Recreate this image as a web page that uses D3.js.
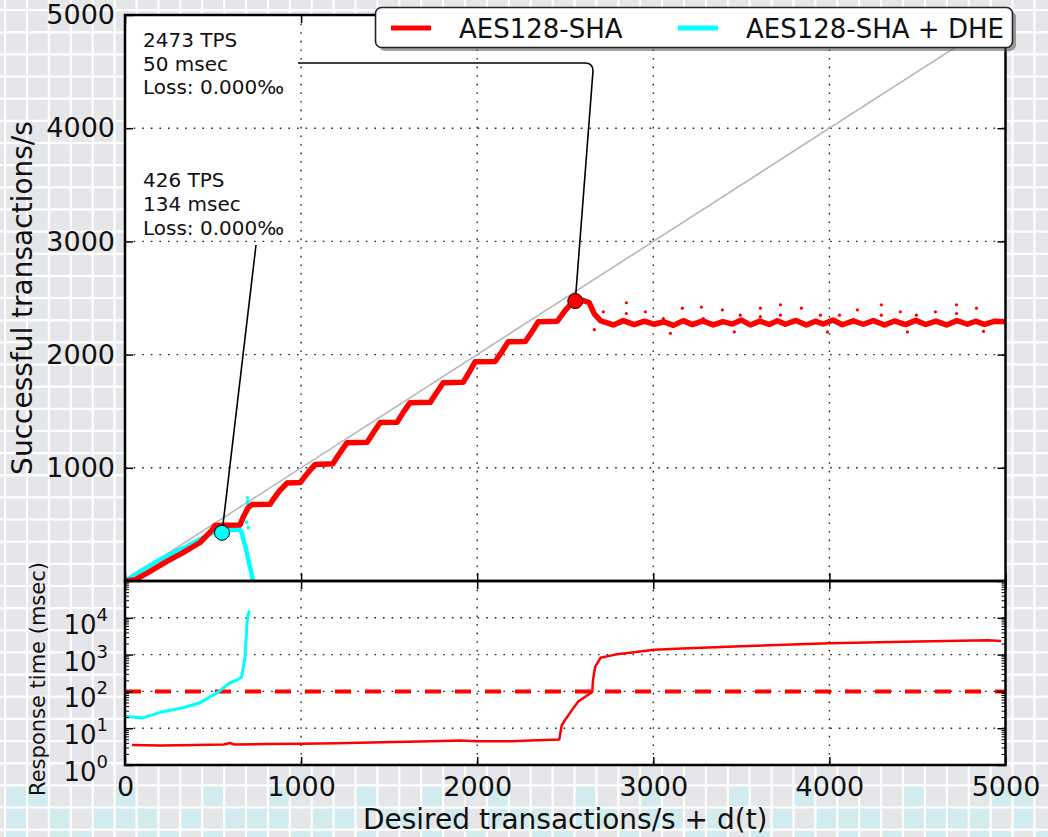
<!DOCTYPE html>
<html><head><meta charset="utf-8">
<script src="https://cdn.jsdelivr.net/npm/d3@7"></script>
<style>
body{margin:0;background:#e5e6ea}
svg{display:block}
text{font-family:"DejaVu Sans",sans-serif;fill:#111}
</style>
</head><body>
<svg id="c" width="1048" height="837"></svg>
<script>
// ---------- data ----------
const xTicks = [0, 1000, 2000, 3000, 4000, 5000];
const yTicks = [1000, 2000, 3000, 4000, 5000];
const logExponents = [0, 1, 2, 3, 4];
const seriesNames = ["AES128-SHA", "AES128-SHA + DHE"];
const seriesColors = ["#ff0000", "#00ffff"];

// successful transactions/s vs desired (AES128-SHA)
const redTps = [
  [0,0],[60,12],[142,85],[240,175],[330,250],[426,340],[494,450],[511,490],[560,492],[653,495],
  [670,560],[700,650],[722,675],[824,678],[841,720],[880,800],[920,865],[995,870],
  [1040,960],[1080,1030],[1180,1035],[1215,1120],[1261,1222],[1375,1225],[1410,1310],[1449,1400],
  [1545,1402],[1580,1490],[1619,1575],[1733,1578],[1770,1665],[1807,1752],[1920,1755],[1955,1845],
  [1989,1937],[2102,1940],[2140,2025],[2176,2113],[2273,2116],[2310,2200],[2347,2290],[2455,2295],
  [2500,2390],[2540,2460],[2557,2473],[2600,2478],[2636,2460],[2665,2360],[2700,2300],[2720,2290],
  [2773,2262],[2830,2300],[2892,2265],[2950,2295],[3006,2268],[3060,2290],[3114,2258],[3170,2300],
  [3222,2265],[3280,2298],[3341,2262],[3395,2292],[3449,2270],[3500,2305],[3551,2262],[3605,2296],
  [3659,2266],[3705,2300],[3750,2268],[3810,2302],[3869,2262],[3920,2295],[3966,2270],[4020,2305],
  [4074,2264],[4135,2298],[4193,2268],[4250,2300],[4313,2262],[4370,2297],[4432,2265],[4490,2302],
  [4546,2266],[4605,2296],[4665,2262],[4725,2300],[4784,2268],[4830,2295],[4881,2266],[4940,2295],
  [5000,2290]
];
const redTpsOutliers = [
  [2716,2378],[2847,2458],[2847,2363],[2955,2378],[3057,2317],[3165,2410],[3273,2420],[3284,2317],
  [3392,2395],[3494,2348],[3608,2410],[3608,2335],[3722,2440],[3722,2348],[3841,2410],[3949,2348],
  [4057,2348],[4159,2395],[4295,2440],[4295,2348],[4403,2378],[4494,2348],[4602,2378],[4722,2440],
  [4722,2363],[4835,2410],[2665,2220],[3097,2188],[3460,2200],[3989,2200],[4443,2200],[4875,2205]
];
// AES128-SHA + DHE
const cyanTps = [
  [0,0],[100,98],[200,190],[300,272],[352,305],[420,365],[500,428],[560,445],[620,455],[653,452],
  [665,420],[672,366],[685,300],[700,190],[715,90],[727,0]
];
const cyanTpsOutliers = [[695,735],[697,705],[698,680],[700,650],[700,470],[690,520]];

// response time (msec) vs desired
const redResp = [
  [40,3.5],[200,3.4],[400,3.5],[560,3.6],[597,3.95],[620,3.6],[800,3.7],[1000,3.8],[1200,3.9],
  [1400,4.1],[1600,4.3],[1800,4.5],[1900,4.6],[2000,4.4],[2200,4.4],[2300,4.6],[2466,4.9],
  [2480,12],[2500,17],[2540,32],[2574,53],[2620,75],[2653,95],[2658,207],[2670,468],[2700,820],
  [2784,1000],[3006,1360],[3200,1480],[3500,1680],[4000,2050],[4500,2280],[4900,2450],[4975,2350]
];
const cyanResp = [
  [0,21],[100,19],[200,27],[330,36],[426,49],[522,91],[597,172],[642,208],[663,250],
  [682,875],[693,7400],[705,15800]
];
const respLimit = 100;

// annotated peaks
const peakRed = [2557, 2473];
const peakCyan = [551, 426];
const annRed = ["2473 TPS", "50 msec", "Loss: 0.000‰"];
const annCyan = ["426 TPS", "134 msec", "Loss: 0.000‰"];

// background decoration: light-cyan cells [row, col]
const bgCyanCells = [
  [35,0],[35,1],[35,5],[35,9],[35,12],[35,16],[35,19],[35,22],[35,26],[35,29],[35,33],[35,36],[35,41],[35,45],[35,46],
  [36,0],[36,2],[36,4],[36,5],[36,6],[36,8],[36,10],[36,11],[36,12],[36,14],[36,15],[36,17],[36,18],[36,20],[36,22],
  [36,23],[36,24],[36,26],[36,27],[36,29],[36,30],[36,32],[36,35],[36,37],[36,38],[36,39],[36,41],[36,42],[36,43],[36,44],[36,46],
  [37,0],[37,2],[37,3],[37,6],[37,7],[37,9],[37,11],[37,13],[37,14],[37,16],[37,19],[37,21],[37,24],[37,25],[37,28],
  [37,31],[37,32],[37,34],[37,36],[37,38],[37,40],[37,42],[37,44],[37,45],[37,47]
];

// ---------- drawing ----------
const svg = d3.select("#c");
const W = 1048, H = 837;
const L = 125, R = 1005.5, T = 15, MID = 581, B = 765;

const x = d3.scaleLinear().domain([0, 5000]).range([L, R]);
const y = d3.scaleLinear().domain([0, 5000]).range([MID, T]);
const yl = d3.scaleLog().domain([1, 1e5]).range([B, MID]);
const fmt = d3.format("d");

// background tiles
const cw = 21.9, ch = 22.15, cx0 = 5, cy0 = 10;
const bg = svg.append("g");
bg.append("rect").attr("width", W).attr("height", H).attr("fill", "#e5e6ea");
bg.selectAll("rect.cy").data(bgCyanCells).join("rect").attr("class","cy")
  .attr("x", d => cx0 + d[1]*cw).attr("y", d => cy0 + d[0]*ch)
  .attr("width", cw).attr("height", ch).attr("fill", "#d2ebee");
for (let gx = cx0; gx < W; gx += cw)
  bg.append("rect").attr("x", gx-1).attr("y", 0).attr("width", 2.2).attr("height", H).attr("fill", "#fff");
for (let gy = cy0; gy < H; gy += ch)
  bg.append("rect").attr("x", 0).attr("y", gy-1).attr("width", W).attr("height", 2.2).attr("fill", "#fff");

// panels
svg.append("rect").attr("x", L).attr("y", T).attr("width", R-L).attr("height", B-T).attr("fill", "#fff");
const defs = svg.append("defs");
defs.append("clipPath").attr("id","cm").append("rect").attr("x",L).attr("y",T).attr("width",R-L).attr("height",MID-T);
defs.append("clipPath").attr("id","cb").append("rect").attr("x",L).attr("y",MID).attr("width",R-L).attr("height",B-MID);

const gridStyle = s => s.attr("stroke","#222").attr("stroke-width",1.4).attr("stroke-dasharray","1.6,7").attr("fill","none");
const gm = svg.append("g").attr("clip-path","url(#cm)");
const gb = svg.append("g").attr("clip-path","url(#cb)");

// grids
gm.selectAll("line.vx").data(xTicks.slice(1,-1)).join("line")
  .attr("x1", d=>x(d)).attr("x2", d=>x(d)).attr("y1", T).attr("y2", MID).call(gridStyle);
gm.selectAll("line.hy").data(yTicks.slice(0,-1)).join("line")
  .attr("x1", L).attr("x2", R).attr("y1", d=>y(d)).attr("y2", d=>y(d)).call(gridStyle);
gb.selectAll("line.vx").data(xTicks.slice(1,-1)).join("line")
  .attr("x1", d=>x(d)).attr("x2", d=>x(d)).attr("y1", MID).attr("y2", B).call(gridStyle);
gb.selectAll("line.hy").data(logExponents.slice(1)).join("line")
  .attr("x1", L).attr("x2", R).attr("y1", d=>yl(Math.pow(10,d))).attr("y2", d=>yl(Math.pow(10,d))).call(gridStyle);

// diagonal y = x
gm.append("line").attr("x1", x(0)).attr("y1", y(0)).attr("x2", x(5000)).attr("y2", y(5000))
  .attr("stroke", "#b8b8b8").attr("stroke-width", 1.6);

const line = d3.line().x(d=>x(d[0])).y(d=>y(d[1]));
const lineLog = d3.line().x(d=>x(d[0])).y(d=>yl(d[1]));

// cyan and red tps
gm.append("path").datum(cyanTps).attr("d", line).attr("fill","none")
  .attr("stroke", seriesColors[1]).attr("stroke-width", 4.5).attr("stroke-linejoin","round");
gm.selectAll("circle.co").data(cyanTpsOutliers).join("circle")
  .attr("cx", d=>x(d[0])).attr("cy", d=>y(d[1])).attr("r", 1.8).attr("fill", seriesColors[1]);
gm.append("path").datum(redTps).attr("d", line).attr("fill","none")
  .attr("stroke", seriesColors[0]).attr("stroke-width", 5.5).attr("stroke-linejoin","round");
gm.selectAll("circle.ro").data(redTpsOutliers).join("circle")
  .attr("cx", d=>x(d[0])).attr("cy", d=>y(d[1])).attr("r", 1.6).attr("fill", seriesColors[0]);

// response time
gb.append("line").attr("x1", L).attr("x2", R).attr("y1", yl(respLimit)).attr("y2", yl(respLimit))
  .attr("stroke", seriesColors[0]).attr("stroke-width", 4).attr("stroke-dasharray", "16,14");
gb.append("path").datum(redResp).attr("d", lineLog).attr("fill","none")
  .attr("stroke", seriesColors[0]).attr("stroke-width", 2.5).attr("stroke-linejoin","round");
gb.append("path").datum(cyanResp).attr("d", lineLog).attr("fill","none")
  .attr("stroke", seriesColors[1]).attr("stroke-width", 3).attr("stroke-linejoin","round");

// annotation connectors
const pr = [x(peakRed[0]), y(peakRed[1])];
const pc = [x(peakCyan[0]), y(peakCyan[1])];
svg.append("path").attr("d", `M298,63 H585 Q593,63 593,71 L${pr[0]},${pr[1]}`)
  .attr("fill","none").attr("stroke","#000").attr("stroke-width",1.6);
svg.append("path").attr("d", `M256,245 L${pc[0]},${pc[1]}`)
  .attr("fill","none").attr("stroke","#000").attr("stroke-width",1.6);
svg.append("circle").attr("cx", pr[0]).attr("cy", pr[1]).attr("r", 7.5)
  .attr("fill", seriesColors[0]).attr("stroke","#000").attr("stroke-width",1);
svg.append("circle").attr("cx", pc[0]).attr("cy", pc[1]).attr("r", 7.5)
  .attr("fill", seriesColors[1]).attr("stroke","#000").attr("stroke-width",1);

// annotation texts
const annG = svg.append("g").attr("font-size", 20);
annRed.forEach((t,i)=> annG.append("text").attr("x",143).attr("y",47+i*23.5).text(t));
annCyan.forEach((t,i)=> annG.append("text").attr("x",143).attr("y",187+i*24).text(t));

// axes (ticks)
function styleAxis(g){ g.select(".domain").remove(); g.selectAll("line").attr("stroke","#000").attr("stroke-width",1.5); }
function styleLabels(g){ g.selectAll("text").attr("font-size",27).attr("font-family","DejaVu Sans").attr("fill","#111"); }
const minorVals = [];
for (let e=0;e<5;e++) for (let m=2;m<10;m++) minorVals.push(m*Math.pow(10,e));
const majorLog = logExponents.map(e=>Math.pow(10,e)).concat([1e5]);

svg.append("g").attr("transform",`translate(${L},0)`)
  .call(d3.axisLeft(y).tickValues(yTicks).tickSizeInner(-8).tickSizeOuter(0).tickPadding(10).tickFormat(fmt))
  .call(styleAxis).call(styleLabels);
svg.append("g").attr("transform",`translate(${R},0)`)
  .call(d3.axisRight(y).tickValues(yTicks).tickSizeInner(-8).tickSizeOuter(0).tickFormat(""))
  .call(styleAxis);
svg.append("g").attr("transform",`translate(0,${T})`)
  .call(d3.axisTop(x).tickValues(xTicks).tickSizeInner(-8).tickSizeOuter(0).tickFormat(""))
  .call(styleAxis);
svg.append("g").attr("transform",`translate(0,${MID})`)
  .call(d3.axisBottom(x).tickValues(xTicks).tickSizeInner(-8).tickSizeOuter(0).tickFormat(""))
  .call(styleAxis);
svg.append("g").attr("transform",`translate(0,${MID})`)
  .call(d3.axisTop(x).tickValues(xTicks).tickSizeInner(-8).tickSizeOuter(0).tickFormat(""))
  .call(styleAxis);
svg.append("g").attr("transform",`translate(0,${B})`)
  .call(d3.axisBottom(x).tickValues(xTicks).tickSizeInner(-8).tickSizeOuter(0).tickPadding(12).tickFormat(fmt))
  .call(styleAxis).call(styleLabels);
[[d3.axisLeft, L],[d3.axisRight, R]].forEach(([ax,pos])=>{
  svg.append("g").attr("transform",`translate(${pos},0)`)
    .call(ax(yl).tickValues(majorLog).tickSizeInner(-8).tickSizeOuter(0).tickFormat(""))
    .call(styleAxis);
  svg.append("g").attr("transform",`translate(${pos},0)`)
    .call(ax(yl).tickValues(minorVals).tickSizeInner(-4).tickSizeOuter(0).tickFormat(""))
    .call(styleAxis).call(g=>g.selectAll("line").attr("stroke-width",1));
});

// log tick labels 10^n
const ll = svg.append("g");
logExponents.forEach(e=>{
  const t = ll.append("text").attr("x",108).attr("y", yl(Math.pow(10,e))+16).attr("text-anchor","end");
  t.append("tspan").attr("font-size",26).text("10");
  t.append("tspan").attr("font-size",18).attr("dy",-13).text(String(e));
});

// spines
svg.append("rect").attr("x",L).attr("y",T).attr("width",R-L).attr("height",MID-T)
  .attr("fill","none").attr("stroke","#000").attr("stroke-width",2.5);
svg.append("rect").attr("x",L).attr("y",MID).attr("width",R-L).attr("height",B-MID)
  .attr("fill","none").attr("stroke","#000").attr("stroke-width",2.5);

// axis titles
svg.append("text").attr("transform",`translate(32,${(T+MID)/2}) rotate(-90)`).attr("text-anchor","middle")
  .attr("font-size",28).text("Successful transactions/s");
svg.append("text").attr("transform",`translate(45,679) rotate(-90)`).attr("text-anchor","middle")
  .attr("font-size",21).text("Response time (msec)");
svg.append("text").attr("x",(L+R)/2).attr("y",829).attr("text-anchor","middle")
  .attr("font-size",28).text("Desired transactions/s + d(t)");

// legend
const lg = svg.append("g");
lg.append("rect").attr("x",379).attr("y",11).attr("width",637).attr("height",40).attr("rx",6)
  .attr("fill","#555").attr("opacity",0.55);
lg.append("rect").attr("x",375.5).attr("y",7.5).attr("width",637).attr("height",40).attr("rx",6)
  .attr("fill","#fff").attr("stroke","#222").attr("stroke-width",1.6);
const legX = [391, 678];
seriesNames.forEach((n,i)=>{
  lg.append("line").attr("x1",legX[i]).attr("x2",legX[i]+40).attr("y1",28).attr("y2",28)
    .attr("stroke",seriesColors[i]).attr("stroke-width",5);
  lg.append("text").attr("x",legX[i]+68).attr("y",37.5).attr("font-size",26).text(n);
});
</script>
</body></html>
